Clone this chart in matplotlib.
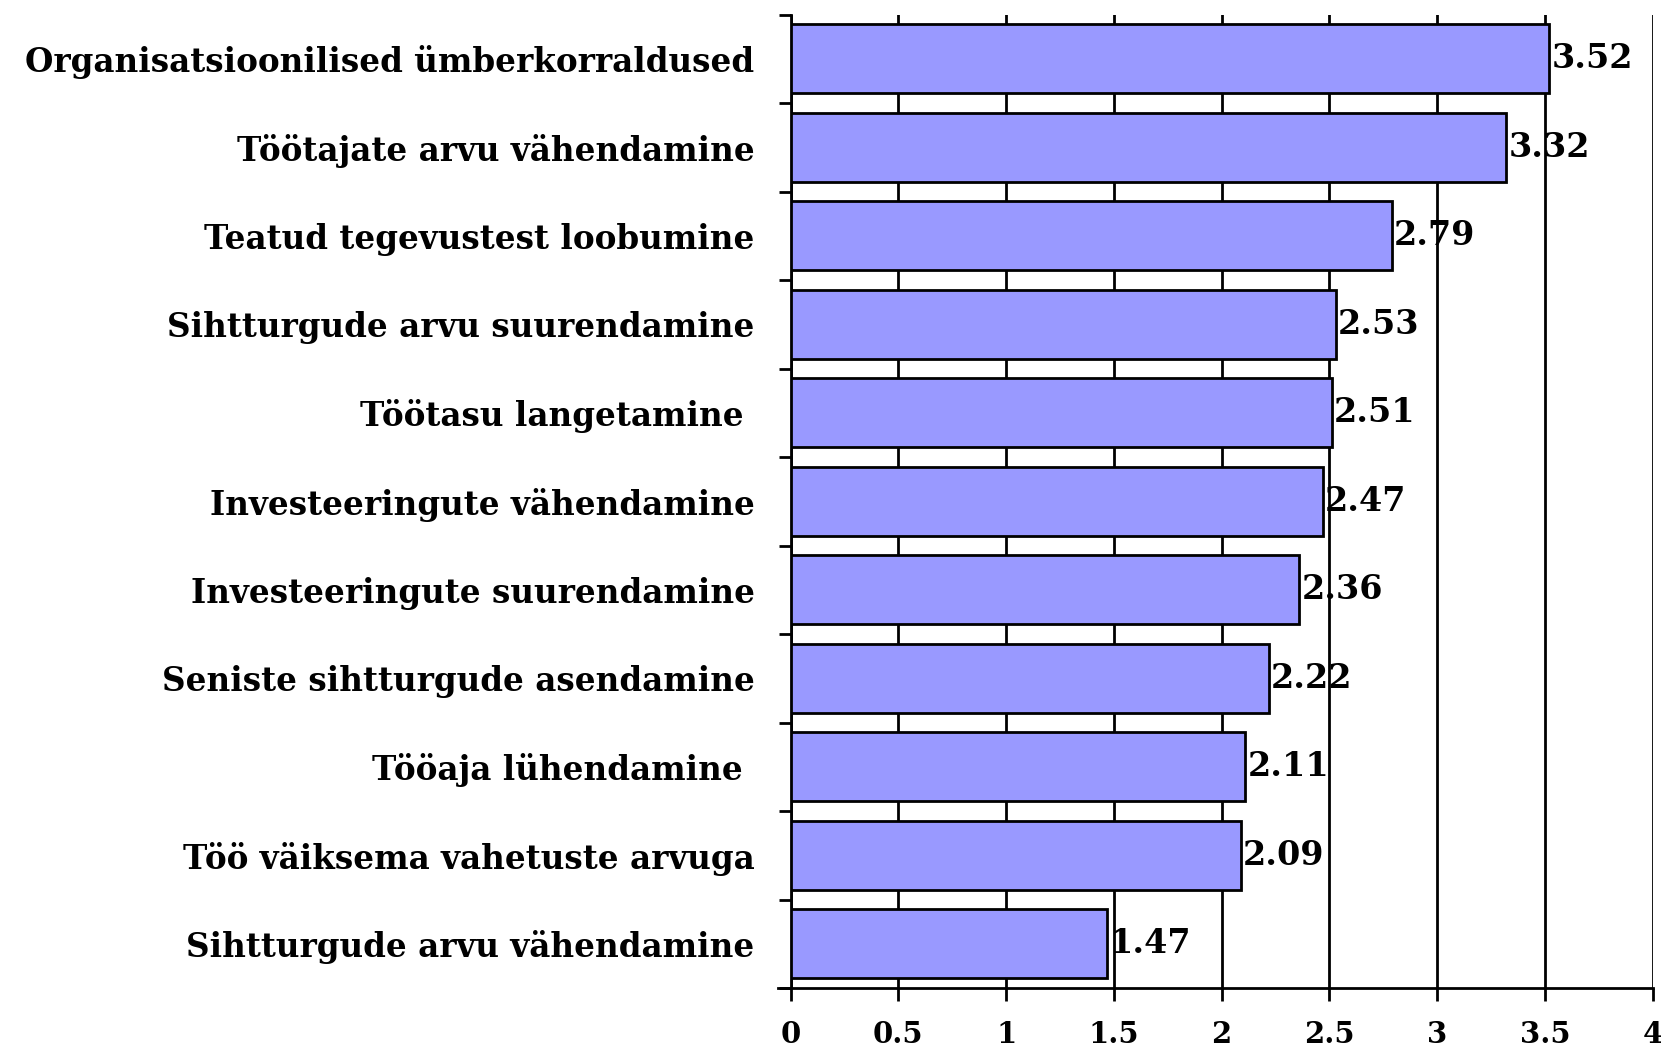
import numpy as np
import matplotlib.pyplot as plt
from matplotlib.ticker import MultipleLocator

## Data
labels = ["Organisatsioonilised ümberkorraldused",
          "Töötajate arvu vähendamine",
          "Teatud tegevustest loobumine",
          "Sihtturgude arvu suurendamine",
          "Töötasu langetamine ",
          "Investeeringute vähendamine",
          "Investeeringute suurendamine",
          "Seniste sihtturgude asendamine",
          "Tööaja lühendamine ",
          "Töö väiksema vahetuste arvuga",
          "Sihtturgude arvu vähendamine"]
values = [3.52, 3.32, 2.79, 2.53, 2.51, 2.47, 2.36, 2.22, 2.11, 2.09, 1.47]
xticks = [0, 0.5, 1, 1.5, 2, 2.5, 3, 3.5, 4]
xticklabels = ["0", "0.5", "1", "1.5", "2", "2.5", "3", "3.5", "4"]

plt.rcParams['font.family'] = ['DejaVu Serif']
plt.rcParams['font.weight'] = 'bold'

fig = plt.figure(figsize=(16.61, 10.49), dpi=100)
ax = fig.add_axes([0.476, 0.058, 0.519, 0.928])

n = len(labels)
ypos = np.arange(n)[::-1]
ax.barh(ypos, values, height=0.78, color="#9999FF", edgecolor="black", linewidth=2, zorder=3)

for y, v in zip(ypos, values):
    ax.text(v + 0.01, y, f"{v:.2f}", va="center", ha="left", fontsize=24, fontweight="bold", zorder=4)

ax.set_xlim(0, 4)
ax.set_ylim(-0.5, n - 0.5)
ax.set_xticks(xticks)
ax.set_xticklabels(xticklabels, fontsize=21, fontweight="bold")
ax.set_yticks(ypos)
ax.set_yticklabels(labels, fontsize=23.5, fontweight="bold")
ax.yaxis.set_minor_locator(MultipleLocator(1, offset=0.5))
ax.tick_params(axis="y", which="major", length=0, pad=26)
ax.tick_params(axis="y", which="minor", length=9, width=2, direction="out")
ax.tick_params(axis="x", which="major", length=9, width=2, direction="out", pad=14)

ax.grid(axis="x", color="black", linewidth=2, zorder=0)
ax.set_axisbelow(True)
for s in ["top", "right"]:
    ax.spines[s].set_visible(False)
for s in ["left", "bottom"]:
    ax.spines[s].set_linewidth(2)
ax.spines["bottom"].set_bounds(-0.06, 4)

plt.savefig("out.png", dpi=100)
